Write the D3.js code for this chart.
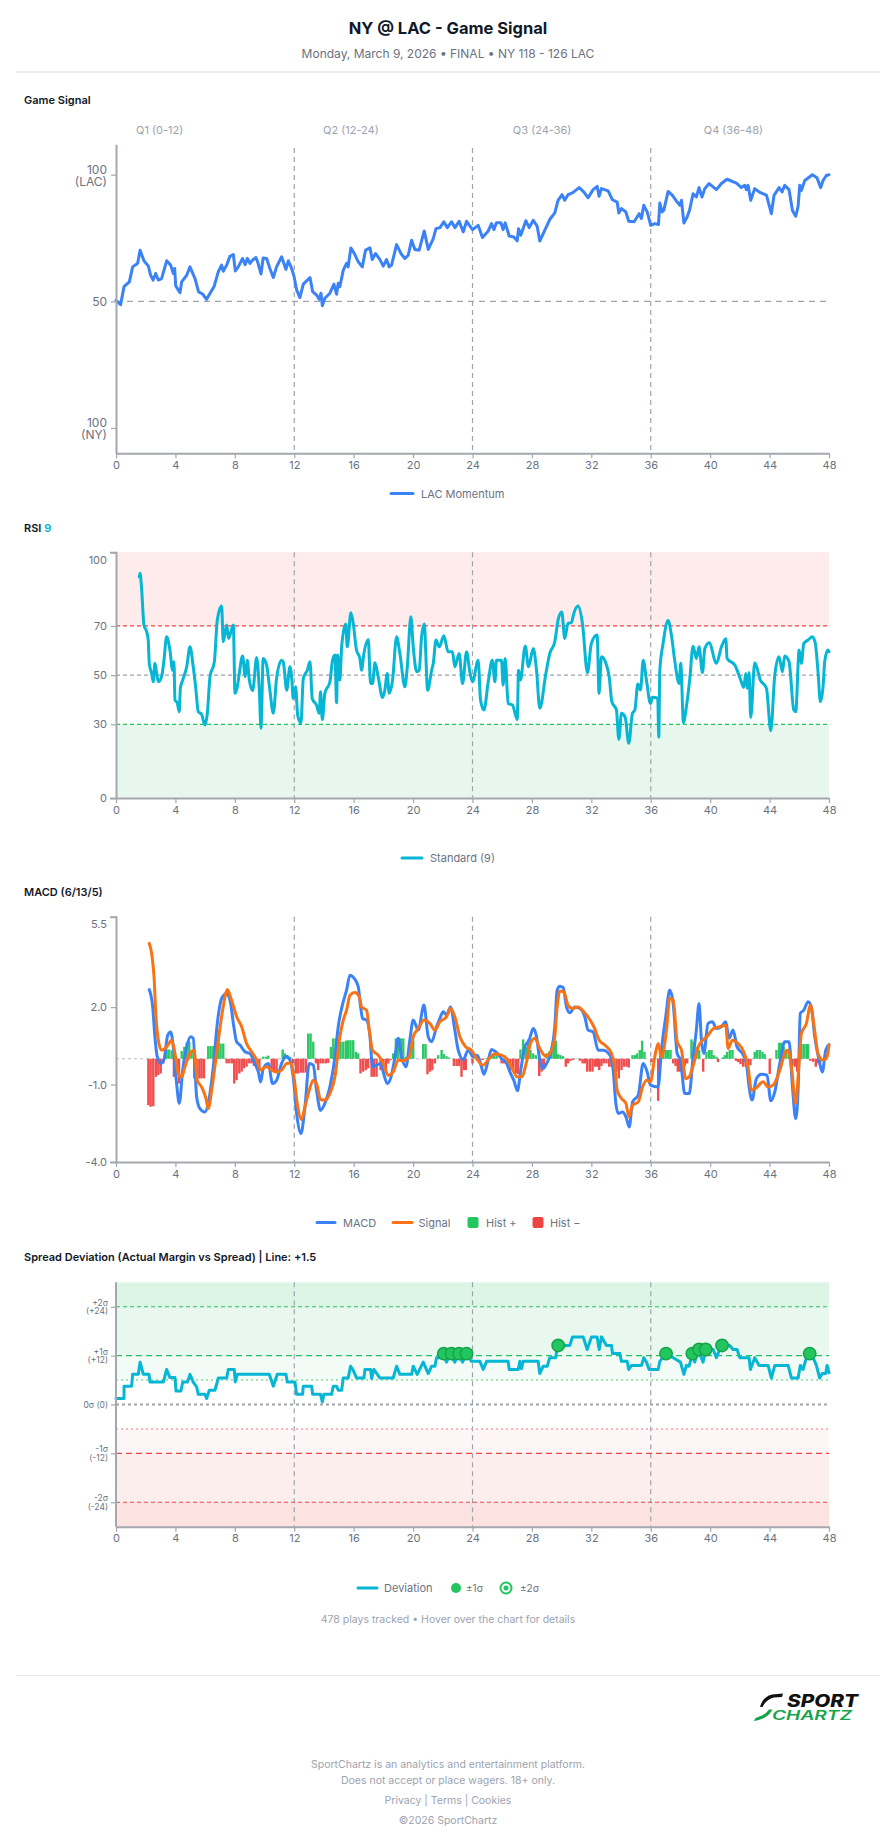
<!DOCTYPE html>
<html><head><meta charset="utf-8">
<script src="https://cdn.jsdelivr.net/npm/d3@7"></script>
<style>
html,body{margin:0;padding:0;background:#fff;}
svg{display:block;}
</style></head><body>
<svg id="c" width="896" height="1845"></svg>
<script>
// ---------------- DATA ----------------
const quarterLabels = ["Q1 (0-12)", "Q2 (12-24)", "Q3 (24-36)", "Q4 (36-48)"];
const minuteTicks = [0,4,8,12,16,20,24,28,32,36,40,44,48];
const quarterBreaks = [12,24,36];

// Game signal (LAC momentum, 50 = neutral): [game minute, value]
const gameSignal = [[0,50.4],[0.31,48.7],[0.54,55.8],[0.9,57.7],[1.12,63.6],[1.46,65],[1.62,70.2],[1.88,66],[2.18,63.9],[2.33,60.3],[2.5,58.4],[2.67,61],[2.85,58.4],[3.07,59],[3.41,66],[3.68,64.3],[3.86,61],[3.95,63],[4.02,56.1],[4.31,53.4],[4.42,57.7],[4.76,60.3],[4.98,63.6],[5.32,59],[5.56,53.7],[5.83,52.9],[6.1,50.8],[6.37,53.6],[6.6,55.8],[6.89,61.7],[7.11,64.3],[7.22,61.9],[7.45,64.3],[7.67,67.8],[7.9,68.5],[8.03,62],[8.23,63.6],[8.52,66.9],[8.7,64.5],[8.84,66.9],[9.02,65],[9.2,66.3],[9.42,67.3],[9.58,64.7],[9.76,60.8],[9.91,67.1],[10.14,66.9],[10.36,63],[10.59,59.4],[10.81,63.6],[11.15,67.6],[11.44,62.6],[11.6,66],[11.82,63],[11.98,60],[12.16,54.5],[12.38,51.5],[12.61,56.8],[13.06,59.4],[13.24,53.8],[13.5,52.5],[13.68,50.8],[13.8,53.2],[13.89,48.3],[14.06,51.2],[14.4,53.2],[14.67,56.8],[14.85,52.8],[14.96,57.1],[15.07,55.8],[15.3,62.3],[15.52,65],[15.63,63.6],[15.81,71.1],[16.04,68.9],[16.31,65.6],[16.58,63.6],[16.8,70.2],[17.1,71.1],[17.25,66.5],[17.47,68.9],[17.77,66.5],[17.99,63.9],[18.21,66.5],[18.39,63.6],[18.55,64.3],[18.89,72.4],[19.18,68.9],[19.45,66.9],[19.67,68.2],[19.9,74.1],[20.12,70.5],[20.41,70.2],[20.75,77.8],[21.02,70.5],[21.36,74.8],[21.54,78.7],[21.81,79.1],[22.07,81.4],[22.3,79.1],[22.59,81.4],[22.82,79.1],[23.1,81.6],[23.38,77.4],[23.6,81.6],[24.0,78.3],[24.38,80],[24.67,75.2],[25.06,77.8],[25.28,80.7],[25.44,78.3],[25.61,81],[25.91,81],[26.06,78.3],[26.2,81],[26.47,75.8],[26.78,75.4],[27.01,73.9],[27.1,78.7],[27.25,76.1],[27.59,81.8],[27.82,79.1],[28.09,82],[28.35,79.7],[28.53,73.8],[28.87,78.1],[29.2,82.3],[29.54,84.9],[29.76,89.9],[30.03,92.1],[30.21,89.9],[30.43,92.1],[30.73,92.8],[31.18,94.9],[31.49,93.2],[31.78,90.9],[32.12,94.1],[32.39,95.4],[32.52,91.5],[32.68,94.5],[33.13,93.6],[33.42,90.1],[33.74,89.2],[33.85,84.9],[34.03,86.6],[34.32,85.3],[34.52,81.6],[34.88,81.4],[35.22,84.6],[35.37,82.7],[35.53,87.9],[35.76,85.3],[36.0,80],[36.27,80.7],[36.52,80.3],[36.61,88.8],[36.76,85.3],[36.88,86],[37.17,93.4],[37.46,91.8],[37.78,89.2],[37.96,87.9],[38.07,89.9],[38.23,80.9],[38.45,83.3],[38.62,86.2],[38.85,92.5],[39.07,91.2],[39.25,94.9],[39.45,91.2],[39.64,94.5],[39.93,96.5],[40.42,94.1],[40.76,96.5],[41.14,98.2],[41.77,96.7],[42.1,94.9],[42.33,95.8],[42.44,94.1],[42.55,95.8],[42.73,89.9],[43,94.5],[43.38,92.9],[43.79,91.9],[44.12,84.6],[44.3,91.9],[44.64,94.9],[44.84,93.2],[45.02,95.8],[45.31,94.1],[45.54,85.9],[45.76,83.6],[45.92,87.5],[46.03,95.8],[46.14,93.8],[46.37,97.7],[46.88,100],[47.19,98.8],[47.44,94.9],[47.6,97.7],[47.82,99.7],[48,100]];
const gameSignalTicks = [0,50,100];

// RSI (9)
const rsi = [[1.57,90],[1.62,91.4],[1.73,84.6],[1.88,70.4],[2.06,67.7],[2.17,64.3],[2.24,54.8],[2.4,50.7],[2.51,47.3],[2.62,54.8],[2.74,50.7],[2.85,47.3],[3.07,49.4],[3.23,56.1],[3.41,65.6],[3.63,60.2],[3.81,52],[3.9,55.4],[3.97,39.9],[4.13,38.6],[4.26,35.1],[4.33,44.6],[4.49,48],[4.76,53.4],[4.98,61.5],[5.2,53.4],[5.36,45.3],[5.54,35.1],[5.76,34.1],[5.99,29.7],[6.15,34.5],[6.33,49.4],[6.62,55.4],[6.82,72.4],[7.11,78.1],[7.22,63.6],[7.45,70.4],[7.58,64.9],[7.9,70.4],[8.01,42.6],[8.17,45.3],[8.3,50.7],[8.52,57.8],[8.7,49.4],[8.84,56.1],[8.97,48.3],[9.2,43.7],[9.47,57.2],[9.65,43.7],[9.76,28.4],[9.91,56.8],[10.14,54.1],[10.36,43.9],[10.59,34.5],[10.81,48.7],[11.15,56.1],[11.26,55.4],[11.49,43.9],[11.71,53.4],[11.84,48],[11.93,40.5],[12.09,45.3],[12.23,33.8],[12.45,30.4],[12.61,48.7],[12.88,52],[13.06,55.4],[13.21,40.5],[13.5,37.8],[13.68,34.5],[13.77,43.3],[13.89,32],[14.06,42.6],[14.4,47.3],[14.58,56.1],[14.74,58.2],[14.85,38.8],[14.92,58.2],[15.07,48],[15.19,61.5],[15.46,70.8],[15.57,61.5],[15.81,75.4],[15.97,71.1],[16.19,60.2],[16.42,56.8],[16.53,52],[16.69,58.8],[16.98,64.5],[17.14,46.6],[17.27,46.6],[17.43,55],[17.65,49.4],[17.94,40.9],[18.1,43.9],[18.26,50.7],[18.39,42.6],[18.62,48],[18.89,65.6],[19.11,58.8],[19.45,45.3],[19.61,53.4],[19.85,73.7],[20.01,61.5],[20.24,51.4],[20.41,52],[20.57,65.6],[20.75,70.8],[20.98,43.9],[21.25,52],[21.36,54.8],[21.54,64.3],[21.76,61.5],[22.07,66],[22.36,59.5],[22.65,59.5],[22.81,53.4],[23.1,58.8],[23.33,46.6],[23.6,59.5],[23.82,51.4],[24.0,47.3],[24.38,56.1],[24.54,39.9],[24.77,35.8],[25.06,47.3],[25.33,56.1],[25.51,47.3],[25.61,56.1],[25.95,56.1],[26.06,46],[26.2,56.8],[26.4,38.5],[26.69,37.9],[27.01,32],[27.1,52],[27.23,48],[27.55,61.9],[27.77,53.4],[28.09,60.8],[28.31,52],[28.53,36.5],[28.94,50.7],[29.2,58.8],[29.54,63.6],[29.76,72.4],[30.01,75.7],[30.21,64.9],[30.43,71.1],[30.66,71.4],[30.82,75.1],[31.11,78.1],[31.4,71.1],[31.74,51],[32.0,62.9],[32.39,66.3],[32.52,42.6],[32.68,57.5],[33.02,54.1],[33.2,49.4],[33.38,39.2],[33.69,35.8],[33.85,23.9],[34.03,34.5],[34.28,32.8],[34.52,22.3],[34.77,34.5],[34.93,35.8],[35.13,46.4],[35.31,44],[35.49,56.1],[35.71,48],[35.98,38.5],[36.12,41],[36.47,40.6],[36.54,24.7],[36.61,52],[36.83,62.9],[37.17,72.2],[37.39,66.3],[37.61,56.1],[37.91,46.6],[38.02,54.8],[38.2,30.7],[38.4,37.2],[38.62,48],[38.85,61.8],[39.07,56.8],[39.25,61.5],[39.48,51],[39.64,60.8],[39.93,63.2],[40.42,54.8],[40.76,61.5],[41.05,64.8],[41.14,56.8],[41.66,54.1],[42.04,48.3],[42.26,45],[42.4,50.7],[42.49,44.6],[42.62,51.1],[42.73,32.8],[43.0,55],[43.38,48],[43.79,44.6],[44.08,27.4],[44.35,50],[44.64,57.5],[44.86,51.4],[45.02,57.8],[45.31,55.5],[45.63,35.8],[45.76,35.1],[45.99,60.2],[46.14,54.8],[46.3,62.9],[46.59,64.3],[46.88,65.6],[47.08,62.9],[47.26,51.4],[47.42,39.2],[47.6,45.3],[47.71,55.5],[47.93,60.2],[48,59.5]];
const rsiTicks = [0,30,50,70,100];

// MACD (6/13/5)
const macdLine = [[2.24,2.68],[2.47,2.01],[2.62,0.85],[2.78,0.07],[3.03,-0.18],[3.23,-0.03],[3.48,0.91],[3.68,1.04],[3.86,0.46],[4.08,-0.96],[4.26,-1.73],[4.49,-0.44],[4.76,0.46],[5.02,0.85],[5.2,0.79],[5.43,-1.48],[5.65,-1.93],[5.99,-2.06],[6.21,-1.73],[6.55,-0.31],[6.82,1.37],[7.11,2.34],[7.45,2.53],[7.72,2.14],[7.9,1.37],[8.12,0.66],[8.35,0.53],[8.68,0.27],[9.02,0.2],[9.35,-0.18],[9.58,-0.51],[9.74,-0.9],[9.91,-0.38],[10.25,-0.18],[10.54,-0.96],[10.81,-0.83],[11.15,-0.18],[11.44,0.1],[11.71,-0.05],[11.93,-0.7],[12.16,-2.12],[12.45,-2.9],[12.72,-1.86],[13.01,-0.18],[13.28,-0.25],[13.5,-1.22],[13.77,-2.0],[14.06,-1.73],[14.4,-1.09],[14.74,0.07],[14.96,1.24],[15.3,2.21],[15.52,2.66],[15.75,3.24],[16.04,3.11],[16.31,2.79],[16.47,2.01],[16.6,1.56],[16.87,1.5],[17.09,0.91],[17.27,-0.31],[17.54,-0.25],[17.81,-0.18],[17.99,-0.51],[18.26,-0.96],[18.48,-0.77],[18.78,0.07],[19.0,0.79],[19.23,0.07],[19.52,-0.31],[19.78,0.72],[20.01,1.5],[20.35,1.11],[20.73,2.08],[21.02,0.85],[21.25,0.66],[21.58,1.24],[21.8,1.56],[22.03,1.82],[22.25,1.69],[22.52,2.01],[22.81,1.11],[23.04,0.33],[23.37,-0.03],[23.71,0.33],[24.05,0.07],[24.32,0.14],[24.54,-0.18],[24.77,-0.6],[25.06,-0.05],[25.28,0.36],[25.57,0.27],[25.95,0.01],[26.29,-0.18],[26.56,-0.57],[26.78,-0.83],[27.03,-1.24],[27.23,-0.51],[27.52,0.46],[27.81,0.72],[28.09,1.17],[28.31,0.85],[28.53,-0.05],[28.76,-0.38],[28.99,-0.18],[29.32,0.33],[29.54,1.24],[29.7,2.66],[29.88,2.81],[30.1,2.76],[30.33,2.01],[30.55,1.78],[30.89,2.01],[31.23,1.95],[31.56,1.63],[31.78,1.11],[32.12,1.04],[32.46,0.33],[32.8,0.33],[33.25,0.14],[33.47,-0.44],[33.65,-1.73],[33.81,-2.12],[34.1,-2.06],[34.33,-2.25],[34.55,-2.64],[34.78,-1.67],[35.16,-1.41],[35.49,-0.18],[35.76,-0.51],[35.98,-1.02],[36.5,-1.09],[36.72,0.33],[37.01,1.63],[37.28,2.66],[37.51,2.14],[37.78,0.2],[38.0,-0.05],[38.29,-1.35],[38.59,-1.35],[38.85,0.07],[39.07,1.11],[39.25,2.14],[39.41,0.72],[39.57,0.2],[39.86,1.37],[40.15,1.43],[40.42,1.17],[40.76,1.24],[41.05,1.43],[41.27,0.79],[41.54,1.11],[41.81,0.46],[42.17,0.2],[42.44,-0.18],[42.62,-1.09],[42.82,-1.6],[43.11,-0.77],[43.45,-0.6],[43.83,-0.64],[44.08,-1.63],[44.35,-1.28],[44.69,-0.18],[45.02,0.66],[45.31,0.66],[45.54,-1.09],[45.76,-2.32],[45.92,-1.22],[46.07,1.76],[46.3,1.88],[46.59,2.21],[46.81,2.01],[47.04,0.85],[47.33,-0.05],[47.55,-0.51],[47.78,0.33],[48,0.55]];
const signalLine = [[2.24,4.47],[2.4,4.08],[2.56,3.18],[2.69,1.63],[2.85,0.72],[3.07,0.33],[3.41,0.46],[3.75,0.72],[3.97,0.2],[4.19,-0.57],[4.42,-0.7],[4.64,-0.31],[4.98,0.2],[5.25,0.33],[5.47,-0.83],[5.76,-1.09],[6.06,-1.54],[6.21,-1.93],[6.44,-1.22],[6.77,0.2],[7.11,1.63],[7.34,2.4],[7.49,2.68],[7.78,2.27],[8.12,1.63],[8.46,1.24],[8.79,0.59],[9.13,0.27],[9.47,-0.05],[9.74,-0.44],[10.14,-0.31],[10.47,-0.44],[10.81,-0.51],[11.15,-0.44],[11.49,-0.18],[11.75,-0.16],[11.98,-0.7],[12.2,-1.73],[12.49,-2.35],[12.72,-1.86],[13.01,-1.22],[13.28,-0.83],[13.5,-0.96],[13.77,-1.58],[14.06,-1.6],[14.4,-1.35],[14.74,-0.7],[15.07,0.85],[15.3,1.5],[15.52,1.88],[15.75,2.46],[16.08,2.57],[16.38,2.4],[16.53,2.01],[16.87,1.88],[17.05,1.11],[17.27,0.33],[17.65,0.14],[17.99,-0.18],[18.33,-0.64],[18.66,-0.51],[19.0,-0.05],[19.34,-0.08],[19.74,0.07],[20.01,0.85],[20.35,1.17],[20.73,1.5],[21.13,1.37],[21.47,1.11],[21.8,1.43],[22.25,1.63],[22.52,1.95],[22.81,1.63],[23.15,0.85],[23.55,0.46],[23.93,0.33],[24.27,0.01],[24.72,-0.25],[25.12,0.01],[25.5,0.18],[25.95,0.14],[26.29,0.01],[26.62,-0.31],[27.01,-0.7],[27.3,-0.7],[27.64,-0.12],[27.9,0.59],[28.2,0.79],[28.53,0.4],[28.94,0.1],[29.32,0.33],[29.54,0.85],[29.7,2.01],[29.88,2.63],[30.15,2.59],[30.44,2.07],[30.73,1.95],[31.11,2.01],[31.49,1.82],[31.85,1.56],[32.17,1.24],[32.53,0.72],[32.91,0.53],[33.36,0.2],[33.58,-0.31],[33.74,-1.22],[34.03,-1.54],[34.33,-1.73],[34.53,-2.25],[34.78,-1.8],[35.16,-1.67],[35.45,-1.09],[35.72,-0.83],[35.98,-0.89],[36.27,0.07],[36.5,0.59],[36.72,0.07],[37.06,1.11],[37.28,2.34],[37.51,2.27],[37.78,0.66],[38.07,0.33],[38.36,-0.77],[38.59,-0.7],[38.9,-0.18],[39.2,0.46],[39.5,0.72],[39.77,0.85],[40.22,1.17],[40.66,1.24],[41.05,1.3],[41.21,0.4],[41.5,0.72],[41.88,0.59],[42.26,0.27],[42.55,-0.31],[42.78,-1.22],[43.11,-1.12],[43.56,-0.89],[43.9,-1.09],[44.24,-1.02],[44.69,-0.44],[45.02,0.2],[45.25,0.33],[45.47,-0.31],[45.76,-1.73],[45.92,-0.7],[46.14,0.98],[46.48,1.37],[46.75,2.07],[46.97,1.37],[47.26,0.2],[47.6,-0.05],[47.87,0.07],[48,0.53]];
const macdHist = [[2.18,-1.80],[2.33,-1.86],[2.51,-1.84],[2.69,-0.70],[2.85,-0.63],[3.01,-0.57],[3.19,-0.18],[3.41,0.36],[3.57,0.36],[3.75,0.33],[3.90,-0.70],[4.08,-0.44],[4.24,-0.96],[4.42,0.30],[4.60,0.46],[4.76,0.62],[4.93,0.66],[5.09,0.33],[5.27,-0.76],[5.43,-0.76],[5.61,-0.76],[5.76,-0.76],[5.92,-0.76],[6.21,0.49],[6.37,0.49],[6.55,0.49],[6.73,0.59],[6.89,0.98],[7.04,0.59],[7.22,0.59],[7.45,-0.18],[7.63,-0.18],[7.81,-0.18],[7.96,-0.96],[8.12,-0.83],[8.30,-0.57],[8.46,-0.50],[8.61,-0.37],[8.79,-0.31],[8.97,-0.18],[9.13,-0.18],[9.29,-0.28],[9.47,-0.18],[9.65,-0.44],[9.91,0.08],[10.09,0.08],[10.25,0.12],[10.48,-0.50],[10.63,-0.50],[10.81,-0.50],[11.22,0.36],[11.37,0.21],[11.53,0.14],[11.71,0.08],[11.93,-0.18],[12.11,-0.57],[12.27,-0.57],[12.45,-0.54],[12.61,-0.54],[12.79,-0.54],[12.94,0.98],[13.10,0.98],[13.28,0.66],[13.46,-0.18],[13.61,-0.44],[13.77,-0.18],[13.95,-0.18],[14.13,-0.18],[14.29,-0.16],[14.47,0.46],[14.63,0.79],[14.80,0.79],[14.96,0.53],[15.12,0.66],[15.30,0.66],[15.48,0.70],[15.63,0.72],[15.79,0.72],[15.97,0.72],[16.15,0.27],[16.31,0.21],[16.46,-0.57],[16.64,-0.50],[16.82,-0.44],[16.98,-0.37],[17.21,-0.70],[17.36,-0.70],[17.54,-0.70],[17.81,-0.44],[17.99,-0.31],[18.17,-0.50],[18.33,-0.18],[18.48,-0.05],[18.66,0.21],[18.84,0.79],[19.00,0.79],[19.18,0.79],[19.34,0.79],[19.52,0.08],[19.67,0.08],[19.83,0.34],[20.01,0.72],[20.68,0.57],[20.84,0.57],[20.97,-0.60],[21.13,-0.50],[21.29,-0.44],[21.47,-0.18],[21.69,0.14],[21.92,0.34],[22.07,0.18],[22.25,0.10],[22.43,0.05],[22.75,-0.28],[22.93,-0.28],[23.10,-0.28],[23.26,-0.70],[23.42,-0.44],[23.55,-0.44],[24.00,-0.18],[24.16,0.02],[24.32,0.02],[24.50,-0.02],[24.67,-0.05],[24.94,0.03],[25.28,0.14],[25.44,0.14],[25.62,0.14],[25.96,-0.18],[26.11,-0.18],[26.40,-0.28],[26.56,-0.44],[26.74,-0.50],[26.92,-0.57],[27.08,-0.59],[27.23,0.36],[27.41,0.75],[27.59,0.46],[27.75,0.75],[27.90,0.34],[28.08,0.21],[28.26,0.14],[28.49,-0.67],[28.65,-0.50],[28.80,-0.37],[28.98,0.21],[29.16,0.27],[29.32,0.47],[29.48,0.70],[29.61,0.70],[29.77,0.18],[29.93,0.14],[30.10,0.10],[30.28,-0.31],[30.44,-0.18],[30.60,-0.08],[30.78,-0.05],[31.00,0.02],[31.23,-0.08],[31.41,-0.18],[31.56,-0.18],[31.72,-0.50],[31.90,-0.50],[32.08,-0.50],[32.24,-0.31],[32.39,-0.31],[32.53,-0.44],[32.68,-0.28],[32.84,-0.18],[33.02,-0.18],[33.20,-0.31],[33.36,-0.31],[33.51,-0.44],[33.69,-0.50],[33.85,-0.76],[34.03,-0.44],[34.19,-0.31],[34.37,-0.31],[34.52,-0.34],[34.77,0.14],[34.93,0.14],[35.08,0.21],[35.26,0.34],[35.42,0.70],[35.58,0.27],[36.05,-0.13],[36.50,-1.63],[36.66,0.34],[36.84,0.53],[37.01,0.34],[37.17,0.34],[37.33,0.34],[37.51,-0.18],[37.67,-0.28],[37.82,-0.50],[37.96,-0.50],[38.14,-0.28],[38.29,-0.28],[38.45,-0.18],[38.74,0.75],[38.90,0.66],[39.08,0.47],[39.26,0.34],[39.53,-0.50],[39.75,0.27],[39.93,0.34],[40.09,0.34],[40.24,0.14],[40.42,0.08],[40.53,-0.13],[40.83,0.05],[40.98,0.14],[41.14,0.27],[41.32,0.34],[41.50,0.34],[41.73,-0.08],[41.88,-0.13],[42.04,-0.21],[42.22,-0.31],[42.40,-0.31],[42.55,-0.31],[42.71,-0.25],[43.00,0.27],[43.16,0.34],[43.34,0.34],[43.52,0.27],[43.67,0.18],[44.01,-0.59],[44.46,0.34],[44.64,0.62],[44.79,0.62],[44.95,0.47],[45.13,0.36],[45.31,0.23],[45.54,-0.25],[45.70,-0.31],[45.86,-0.50],[46.14,0.57],[46.30,0.57],[46.48,0.57],[46.59,0.57],[46.75,-0.08],[46.93,-0.12],[47.11,-0.31],[47.26,-0.18],[47.42,-0.12]];
const macdTicks = [-4, -1, 2, 5.5];

// Spread deviation (actual margin vs spread)
const spreadDev = [[0,1.47],[0.54,1.47],[0.54,4.5],[1.05,4.5],[1.12,7.4],[1.5,7.4],[1.62,10.4],[1.84,7.4],[2.22,7.4],[2.29,5.5],[3.19,5.5],[3.41,8.6],[3.63,6.6],[3.97,6.6],[4.04,3.3],[4.37,3.3],[4.49,5.5],[4.82,5.5],[4.98,7.4],[5.2,5.5],[5.43,4.3],[5.54,2.5],[5.99,2.5],[6.1,1.47],[6.28,3.5],[6.66,3.5],[6.89,6.5],[7.45,6.5],[7.56,8.6],[7.96,8.6],[8.03,5.55],[8.17,7.4],[10.32,7.4],[10.59,4.5],[10.86,7.4],[11.44,7.4],[11.53,5.55],[12.05,5.55],[12.16,2.5],[12.56,2.5],[12.61,4.5],[13.17,4.5],[13.24,2.5],[13.77,2.5],[13.89,0.65],[14.0,2.5],[14.51,2.5],[14.63,4.5],[14.85,4.5],[14.96,3.5],[15.19,3.5],[15.3,6.5],[15.63,6.5],[15.79,9.4],[15.97,8.4],[16.2,6.5],[16.69,6.5],[16.76,8.6],[17.14,8.6],[17.21,6.4],[17.36,8.6],[17.77,6.5],[18.66,6.5],[18.89,9.4],[19.11,7.4],[19.9,7.4],[20.01,9.4],[20.28,7.4],[20.68,10.4],[21.02,7.6],[21.25,9.4],[21.47,9.4],[21.58,11.5],[21.81,11.5],[22.03,12.5],[22.25,10.4],[22.48,12.5],[22.81,10.4],[23.04,12.5],[23.33,10.4],[23.6,12.5],[23.93,10.6],[24.5,10.6],[24.72,8.6],[24.95,10.6],[26.4,10.6],[26.47,8.6],[27.08,8.6],[27.19,10.6],[27.3,8.8],[27.41,10.6],[28.42,10.6],[28.53,7.6],[28.76,9.4],[29.03,9.4],[29.2,11.5],[29.61,11.5],[29.7,14.5],[30.55,14.5],[30.73,16.6],[31.45,16.6],[31.72,13.5],[32.01,16.6],[32.39,16.6],[32.53,13.5],[32.68,16.6],[33.02,14.5],[33.36,14.5],[33.42,12.5],[33.92,12.5],[34.03,10.6],[34.41,10.6],[34.52,8.6],[34.7,9.6],[35.38,9.6],[35.53,11.5],[35.71,10.4],[35.89,8.6],[36.5,8.6],[36.61,10.6],[37.01,12.5],[37.51,11.5],[38.0,10.4],[38.23,7.4],[38.4,9.6],[38.58,9.4],[38.81,12.5],[38.96,10.4],[39.19,13.5],[39.52,10.4],[39.71,13.5],[40.2,13.5],[40.42,11.5],[40.76,14.5],[41.32,14.5],[41.54,13.5],[41.81,13.5],[41.99,11.5],[42.62,11.5],[42.71,8.6],[43.0,11.5],[43.29,9.6],[43.9,9.6],[44.12,6.5],[44.35,9.6],[45.25,9.6],[45.47,6.5],[45.92,6.5],[46.07,9.6],[46.25,8.6],[46.48,11.5],[46.93,11.5],[47.15,9.6],[47.37,6.5],[47.55,7.6],[47.78,7.6],[47.87,9.6],[48,7.8]];
const sigmaDots = [[22.07,12.5],[22.59,12.5],[23.1,12.5],[23.6,12.5],[29.77,14.5],[37.03,12.5],[38.8,12.5],[39.25,13.5],[39.7,13.5],[40.8,14.5],[46.7,12.5]];
const spreadTicks = [24, 12, 0, -12, -24];
const spreadTickLabels = [["+2σ","(+24)"],["+1σ","(+12)"],["0σ (0)"],["-1σ","(-12)"],["-2σ","(-24)"]];

// ---------------- DRAW ----------------
const FONT = "Inter, 'Noto Sans', 'DejaVu Sans', sans-serif";
const svg = d3.select('#c').attr('font-family', FONT);
const AX = '#a3a7ae', TXT = '#6b7280', LIGHT = '#9ca3af';
const BLUE = '#3b82f6', CYAN = '#06b6d4', ORANGE = '#f97316', GREEN = '#22c55e', RED = '#ef4444';

const x = d3.scaleLinear().domain([0, 48]).range([116, 829]);

function txt(t, px, py, o = {}) {
  return svg.append('text').attr('x', px).attr('y', py).text(t)
    .attr('font-size', o.size || 11).attr('fill', o.fill || TXT)
    .attr('font-weight', o.weight || 400).attr('text-anchor', o.anchor || 'start');
}

// header
txt('NY @ LAC - Game Signal', 448, 34, {size: 16.5, weight: 700, fill: '#111827', anchor: 'middle'});
txt('Monday, March 9, 2026 • FINAL • NY 118 - 126 LAC', 448, 57.5, {size: 12, fill: TXT, anchor: 'middle'});
svg.append('line').attr('x1', 16).attr('x2', 880).attr('y1', 72).attr('y2', 72).attr('stroke', '#d9dbe0').attr('stroke-width', 1);

function styleAxis(g, size) {
  g.select('.domain').attr('stroke', AX).attr('stroke-width', 2);
  g.selectAll('.tick line').attr('stroke', AX).attr('stroke-width', 1.2);
  g.selectAll('.tick text').attr('fill', TXT).attr('font-size', size || 11).attr('font-family', FONT);
}
function bottomAxis(y0) {
  const g = svg.append('g').attr('transform', `translate(0,${y0})`)
    .call(d3.axisBottom(x).tickValues(minuteTicks).tickSize(5).tickSizeOuter(0).tickPadding(3));
  styleAxis(g);
}
function quarterLines(y0, y1) {
  svg.append('g').selectAll('line').data(quarterBreaks).join('line')
    .attr('x1', d => x(d)).attr('x2', d => x(d)).attr('y1', y0).attr('y2', y1)
    .attr('stroke', LIGHT).attr('stroke-width', 1.2).attr('stroke-dasharray', '5,4');
}
function hLine(y, color, dash, w) {
  svg.append('line').attr('x1', x(0)).attr('x2', x(48)).attr('y1', y).attr('y2', y)
    .attr('stroke', color).attr('stroke-dasharray', dash).attr('stroke-width', w || 1.2);
}
function legendLine(x0, x1, y, color) {
  svg.append('line').attr('x1', x0).attr('x2', x1).attr('y1', y).attr('y2', y)
    .attr('stroke', color).attr('stroke-width', 3).attr('stroke-linecap', 'round');
}

// ===== Panel 1: Game Signal =====
txt('Game Signal', 24, 104, {size: 11, weight: 600, fill: '#111827'});
const qBand = d3.scaleBand().domain(quarterLabels).range([64, 829]);
svg.append('g').selectAll('text').data(quarterLabels).join('text')
  .attr('x', d => qBand(d) + qBand.bandwidth() / 2).attr('y', 134)
  .attr('text-anchor', 'middle').attr('font-size', 11).attr('fill', LIGHT).text(d => d);

const yGS = d3.scaleLinear().domain([-10, 112]).range([453.3, 144.3]);
quarterLines(148, 453);
hLine(yGS(50), LIGHT, '6,5', 1.3);
svg.append('path').datum(gameSignal)
  .attr('d', d3.line().x(d => x(d[0])).y(d => yGS(d[1])).curve(d3.curveLinear))
  .attr('fill', 'none').attr('stroke', BLUE).attr('stroke-width', 3).attr('stroke-linejoin', 'round').attr('stroke-linecap', 'round');
{
  const g = svg.append('g').attr('transform', `translate(${x(0)},0)`)
    .call(d3.axisLeft(yGS).tickValues(gameSignalTicks).tickSize(5).tickSizeOuter(0).tickPadding(4).tickFormat(''));
  styleAxis(g, 12);
  g.selectAll('.tick').each(function(d) {
    const t = d3.select(this).select('text').attr('dy', null).attr('x', -9).attr('text-anchor', 'end');
    if (d === 50) { t.attr('y', 4.5).text('50'); }
    else {
      t.append('tspan').attr('x', -9).attr('y', -1.5).text('100');
      t.append('tspan').attr('x', -9).attr('y', 10.5).text(d === 100 ? '(LAC)' : '(NY)');
    }
  });
}
bottomAxis(453.3);
legendLine(391, 413, 493.5, BLUE);
txt('LAC Momentum', 421, 497.5, {size: 11, fill: TXT});

// ===== Panel 2: RSI =====
{
  const t = txt('RSI ', 24, 531.5, {size: 11, weight: 600, fill: '#111827'});
  t.append('tspan').attr('fill', CYAN).text('9');
}
const yR = d3.scaleLinear().domain([0, 100]).range([798.1, 552.2]);
svg.append('rect').attr('x', x(0)).attr('width', x(48) - x(0)).attr('y', yR(100)).attr('height', yR(70) - yR(100)).attr('fill', '#fdeceb');
svg.append('rect').attr('x', x(0)).attr('width', x(48) - x(0)).attr('y', yR(30)).attr('height', yR(0) - yR(30)).attr('fill', '#e8f7ed');
quarterLines(552.2, 798);
hLine(yR(70), RED, '4,3', 1.3);
hLine(yR(50), LIGHT, '4,3', 1.3);
hLine(yR(30), GREEN, '4,3', 1.3);
svg.append('path').datum(rsi)
  .attr('d', d3.line().x(d => x(d[0])).y(d => yR(d[1])).curve(d3.curveMonotoneX))
  .attr('fill', 'none').attr('stroke', CYAN).attr('stroke-width', 3).attr('stroke-linejoin', 'round').attr('stroke-linecap', 'round');
{
  const g = svg.append('g').attr('transform', `translate(${x(0)},0)`)
    .call(d3.axisLeft(yR).tickValues(rsiTicks).tickSize(5).tickSizeOuter(6).tickPadding(4));
  styleAxis(g);
  g.selectAll('.tick').filter(d => d === 100).select('text').attr('dy', '1.05em');
}
bottomAxis(798.1);
legendLine(402, 422, 858, CYAN);
txt('Standard (9)', 430, 862, {size: 11, fill: TXT});

// ===== Panel 3: MACD =====
txt('MACD (6/13/5)', 24, 896, {size: 11, weight: 600, fill: '#111827'});
const yM = d3.scaleLinear().domain([-4, 5.5]).range([1162, 916.8]);
quarterLines(916.8, 1162);
hLine(yM(0), '#b8bcc3', '3,3', 1.2);
svg.append('g').selectAll('rect').data(macdHist).join('rect')
  .attr('x', d => x(d[0]) - 1.2).attr('width', 2.4)
  .attr('y', d => Math.min(yM(d[1]), yM(0))).attr('height', d => Math.abs(yM(d[1]) - yM(0)))
  .attr('fill', d => d[1] >= 0 ? GREEN : RED).attr('opacity', 0.95);
svg.append('path').datum(macdLine)
  .attr('d', d3.line().x(d => x(d[0])).y(d => yM(d[1])).curve(d3.curveMonotoneX))
  .attr('fill', 'none').attr('stroke', BLUE).attr('stroke-width', 3).attr('stroke-linejoin', 'round').attr('stroke-linecap', 'round');
svg.append('path').datum(signalLine)
  .attr('d', d3.line().x(d => x(d[0])).y(d => yM(d[1])).curve(d3.curveMonotoneX))
  .attr('fill', 'none').attr('stroke', ORANGE).attr('stroke-width', 3).attr('stroke-linejoin', 'round').attr('stroke-linecap', 'round');
{
  const g = svg.append('g').attr('transform', `translate(${x(0)},0)`)
    .call(d3.axisLeft(yM).tickValues(macdTicks).tickSize(5).tickSizeOuter(6).tickPadding(4).tickFormat(d => d.toFixed(1)));
  styleAxis(g);
  g.selectAll('.tick').filter(d => d === 5.5).select('text').attr('dy', '1.0em');
}
bottomAxis(1162);
legendLine(317, 335, 1222.5, BLUE);
txt('MACD', 343, 1226.5, {size: 11, fill: TXT});
legendLine(393, 412, 1222.5, ORANGE);
txt('Signal', 418.5, 1226.5, {size: 11, fill: TXT});
svg.append('rect').attr('x', 467.5).attr('y', 1217).attr('width', 11).attr('height', 11).attr('rx', 2).attr('fill', GREEN);
txt('Hist +', 486, 1226.5, {size: 11, fill: TXT});
svg.append('rect').attr('x', 532.5).attr('y', 1217).attr('width', 11).attr('height', 11).attr('rx', 2).attr('fill', RED);
txt('Hist −', 550, 1226.5, {size: 11, fill: TXT});

// ===== Panel 4: Spread Deviation =====
txt('Spread Deviation (Actual Margin vs Spread) | Line: +1.5', 24, 1261, {size: 11, weight: 600, fill: '#111827'});
const yS = d3.scaleLinear().domain([-30, 30]).range([1526.7, 1282.3]);
const bands = [[24,30,'#ddf5e5'],[12,24,'#e9f8ef'],[6,12,'#f3fbf6'],[-12,-6,'#fef6f6'],[-24,-12,'#fdeeee'],[-30,-24,'#fde2e2']];
svg.append('g').selectAll('rect').data(bands).join('rect')
  .attr('x', x(0)).attr('width', x(48) - x(0))
  .attr('y', d => yS(d[1])).attr('height', d => yS(d[0]) - yS(d[1])).attr('fill', d => d[2]);
quarterLines(1282.3, 1526.7);
hLine(yS(24), GREEN, '4,3', 1.2);
hLine(yS(12), GREEN, '6,4', 1.3);
hLine(yS(6), '#86dba0', '2,3', 1.6);
hLine(yS(0), '#a0a4ab', '3,3', 2.2);
hLine(yS(-6), '#f4a3a3', '2,3', 1.6);
hLine(yS(-12), RED, '6,4', 1.3);
hLine(yS(-24), RED, '4,3', 1.2);
svg.append('path').datum(spreadDev)
  .attr('d', d3.line().x(d => x(d[0])).y(d => yS(d[1])).curve(d3.curveLinear))
  .attr('fill', 'none').attr('stroke', CYAN).attr('stroke-width', 3).attr('stroke-linejoin', 'round').attr('stroke-linecap', 'round');
svg.append('g').selectAll('circle').data(sigmaDots).join('circle')
  .attr('cx', d => x(d[0])).attr('cy', d => yS(d[1])).attr('r', 6.2)
  .attr('fill', GREEN).attr('stroke', '#16a34a').attr('stroke-width', 1.5);
{
  const g = svg.append('g').attr('transform', `translate(${x(0)},0)`)
    .call(d3.axisLeft(yS).tickValues(spreadTicks).tickSize(5).tickSizeOuter(0).tickPadding(4).tickFormat(''));
  styleAxis(g, 8.5);
  g.select('.domain').attr('d', `M0,${yS(30)}V${yS(-30)}`);
  g.selectAll('.tick').each(function(d, i) {
    const lab = spreadTickLabels[i];
    const t = d3.select(this).select('text').attr('dy', null).attr('x', -8).attr('text-anchor', 'end').attr('font-size', 8.5);
    if (lab.length === 1) t.attr('y', 3).text(lab[0]);
    else {
      t.append('tspan').attr('x', -8).attr('y', -1.5).text(lab[0]);
      t.append('tspan').attr('x', -8).attr('y', 6.8).text(lab[1]);
    }
  });
}
bottomAxis(1526.7);
legendLine(358, 377, 1588, CYAN);
txt('Deviation', 384, 1592, {size: 11, fill: TXT});
svg.append('circle').attr('cx', 456).attr('cy', 1588).attr('r', 5).attr('fill', GREEN);
txt('±1σ', 466, 1592, {size: 10, fill: TXT});
svg.append('circle').attr('cx', 506).attr('cy', 1588).attr('r', 5.5).attr('fill', '#fff').attr('stroke', GREEN).attr('stroke-width', 2);
svg.append('circle').attr('cx', 506).attr('cy', 1588).attr('r', 2.5).attr('fill', GREEN);
txt('±2σ', 520, 1592, {size: 10, fill: TXT});

txt('478 plays tracked • Hover over the chart for details', 448, 1622.5, {size: 10.5, fill: LIGHT, anchor: 'middle'});

// ===== Footer =====
svg.append('line').attr('x1', 16).attr('x2', 880).attr('y1', 1675.5).attr('y2', 1675.5).attr('stroke', '#e5e7eb').attr('stroke-width', 1);
// logo
svg.append('path').attr('d', 'M760,1707 C762,1700 766,1696 772,1694.5 L783,1693.5 L782,1697 L774,1697.5 C769,1698.5 765,1702 762.5,1707 Z').attr('fill', '#111');
svg.append('path').attr('d', 'M754,1721 L755.5,1718 C761,1716.5 766,1714 769,1709.5 L772.5,1709.5 C769,1716 763,1720 754,1721 Z').attr('fill', '#16a34a');
svg.append('text').attr('x', 787).attr('y', 1707).attr('font-size', 17).attr('font-weight', 800).attr('font-style', 'italic')
  .attr('fill', '#111').attr('textLength', 71).attr('lengthAdjust', 'spacingAndGlyphs').text('SPORT');
svg.append('text').attr('x', 772).attr('y', 1720).attr('font-size', 12.5).attr('font-weight', 600).attr('font-style', 'italic')
  .attr('fill', '#16a34a').attr('textLength', 80).attr('lengthAdjust', 'spacingAndGlyphs').text('CHARTZ');

txt('SportChartz is an analytics and entertainment platform.', 448, 1767.5, {size: 10.5, fill: LIGHT, anchor: 'middle'});
txt('Does not accept or place wagers. 18+ only.', 448, 1783.5, {size: 10.5, fill: LIGHT, anchor: 'middle'});
txt('Privacy  |  Terms  |  Cookies', 448, 1803.5, {size: 10.5, fill: LIGHT, anchor: 'middle'});
txt('©2026 SportChartz', 448, 1823.5, {size: 10.5, fill: LIGHT, anchor: 'middle'});
</script></body></html>
